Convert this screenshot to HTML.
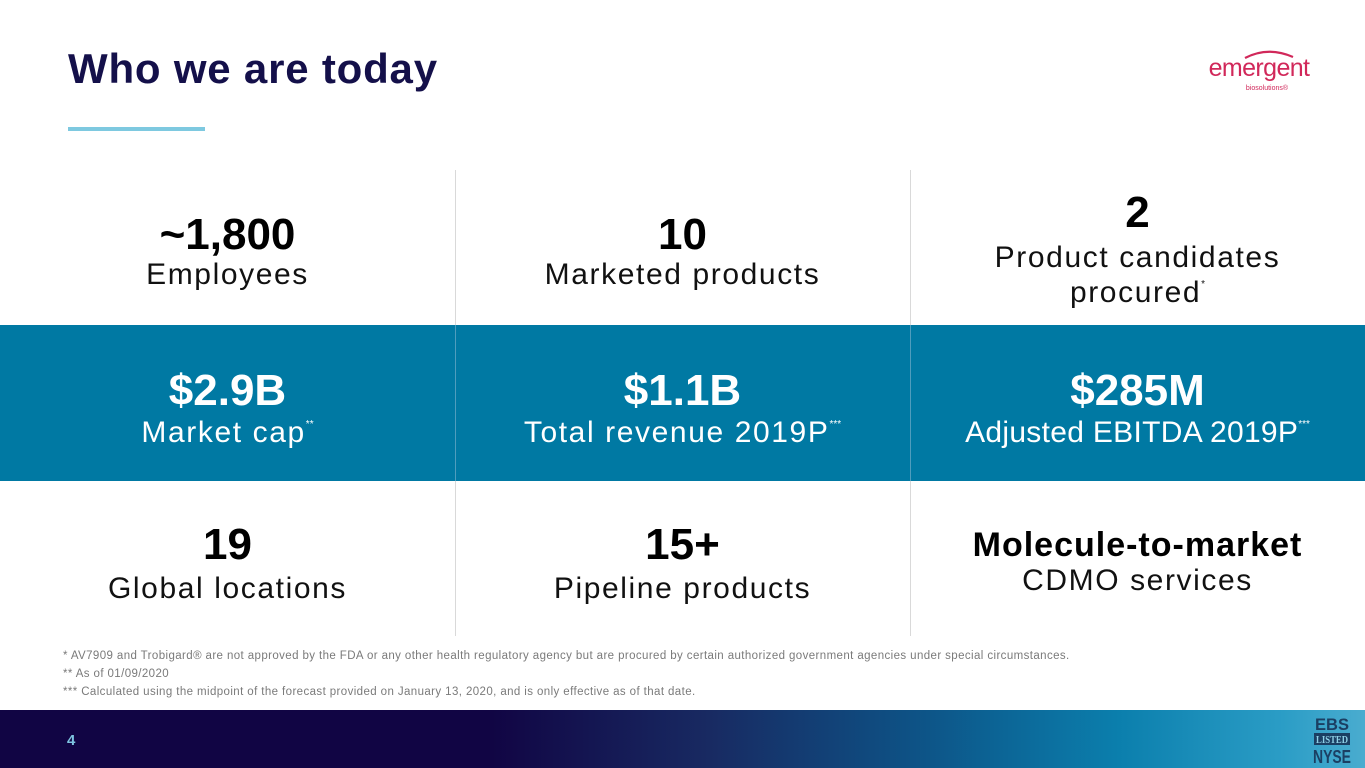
<!DOCTYPE html>
<html><head><meta charset="utf-8"><style>
*{margin:0;padding:0;box-sizing:border-box}
body{width:1365px;height:768px;overflow:hidden;background:#fff;position:relative;font-family:"Liberation Sans",sans-serif}
.a{position:absolute;white-space:nowrap;line-height:1}
.c{text-align:center}
.num{font-weight:bold;font-size:44px;color:#000}
.lab{font-size:30px;color:#111;letter-spacing:1.6px}
.w .num,.w .lab{color:#fff}
sup{font-size:10px;vertical-align:top;position:relative;top:2px;letter-spacing:0}
.fn{font-size:11.5px;color:#7a7a7a;left:63px;letter-spacing:0.4px}
</style></head><body>
<div class="a" style="left:68px;top:48px;font-size:42px;font-weight:bold;color:#14104a;letter-spacing:0.8px">Who we are today</div>
<div class="a" style="left:68px;top:127px;width:137px;height:4px;background:#7ec9e0"></div>

<!-- logo -->
<svg class="a" style="left:1205px;top:44px" width="110" height="50" viewBox="0 0 110 50">
<path d="M40 14 Q63 2 88 13" stroke="#d1285a" stroke-width="2.2" fill="none"/>
<text x="54" y="32" text-anchor="middle" font-family="Liberation Sans,sans-serif" font-size="25" fill="#d1285a" letter-spacing="-0.6">emergent</text>
<text x="62" y="46" text-anchor="middle" font-family="Liberation Sans,sans-serif" font-size="7" fill="#d1285a">biosolutions®</text>
</svg>

<!-- teal band -->
<div class="a" style="left:0;top:325px;width:1365px;height:156px;background:#0079a3"></div>
<!-- dividers -->
<div class="a" style="left:455px;top:170px;width:1px;height:466px;background:#d9d9d9"></div>
<div class="a" style="left:910px;top:170px;width:1px;height:466px;background:#d9d9d9"></div>
<div class="a" style="left:455px;top:325px;width:1px;height:156px;background:#4f9dbd"></div>
<div class="a" style="left:910px;top:325px;width:1px;height:156px;background:#4f9dbd"></div>

<!-- row 1 -->
<div class="a c num" style="left:0;width:455px;top:213px">~1,800</div>
<div class="a c lab" style="left:0;width:455px;top:260px">Employees</div>
<div class="a c num" style="left:455px;width:455px;top:213px">10</div>
<div class="a c lab" style="left:455px;width:455px;top:260px">Marketed products</div>
<div class="a c num" style="left:910px;width:455px;top:191px">2</div>
<div class="a c lab" style="left:910px;width:455px;top:243px">Product candidates</div>
<div class="a c lab" style="left:910px;width:455px;top:278px">procured<sup>*</sup></div>

<!-- row 2 -->
<div class="w">
<div class="a c num" style="left:0;width:455px;top:369px">$2.9B</div>
<div class="a c lab" style="left:0;width:455px;top:418px">Market cap<sup>**</sup></div>
<div class="a c num" style="left:455px;width:455px;top:369px">$1.1B</div>
<div class="a c lab" style="left:455px;width:455px;top:418px">Total revenue 2019P<sup>***</sup></div>
<div class="a c num" style="left:910px;width:455px;top:369px">$285M</div>
<div class="a c lab" style="left:910px;width:455px;top:418px;letter-spacing:0.3px">Adjusted EBITDA 2019P<sup>***</sup></div>
</div>

<!-- row 3 -->
<div class="a c num" style="left:0;width:455px;top:523px">19</div>
<div class="a c lab" style="left:0;width:455px;top:574px">Global locations</div>
<div class="a c num" style="left:455px;width:455px;top:523px">15+</div>
<div class="a c lab" style="left:455px;width:455px;top:574px">Pipeline products</div>
<div class="a c" style="left:910px;width:455px;top:528px;font-size:34px;font-weight:bold;color:#000;letter-spacing:1px">Molecule-to-market</div>
<div class="a c lab" style="left:910px;width:455px;top:566px">CDMO services</div>

<!-- footnotes -->
<div class="a fn" style="top:651px">* AV7909 and Trobigard® are not approved by the FDA or any other health regulatory agency but are procured by certain authorized government agencies under special circumstances.</div>
<div class="a fn" style="top:669px">** As of 01/09/2020</div>
<div class="a fn" style="top:687px">*** Calculated using the midpoint of the forecast provided on January 13, 2020, and is only effective as of that date.</div>

<!-- footer -->
<div class="a" style="left:0;top:710px;width:1365px;height:58px;background:linear-gradient(90deg,#110544 0%,#110544 36%,#182a62 52%,#0d5588 68%,#0b7fad 82%,#2b9dc6 94%,#4aaccf 100%)"></div>
<div class="a" style="left:67px;top:733px;font-size:15px;font-weight:bold;color:#7ec4e0">4</div>
<svg class="a" style="left:1308px;top:714px" width="50" height="52" viewBox="0 0 50 52">
<text x="24" y="16" text-anchor="middle" font-family="Liberation Sans,sans-serif" font-weight="bold" font-size="17" fill="#1b3f63" textLength="34" lengthAdjust="spacingAndGlyphs">EBS</text>
<rect x="6" y="19" width="36" height="12" fill="#1b3f63"/>
<text x="24" y="29" text-anchor="middle" font-family="Liberation Serif,serif" font-weight="bold" font-size="10" fill="#8fd0e6" textLength="32" lengthAdjust="spacingAndGlyphs">LISTED</text>
<text x="24" y="49" text-anchor="middle" font-family="Liberation Sans,sans-serif" font-weight="bold" font-size="18" fill="#1b3f63" textLength="38" lengthAdjust="spacingAndGlyphs">NYSE</text>
</svg>
</body></html>
